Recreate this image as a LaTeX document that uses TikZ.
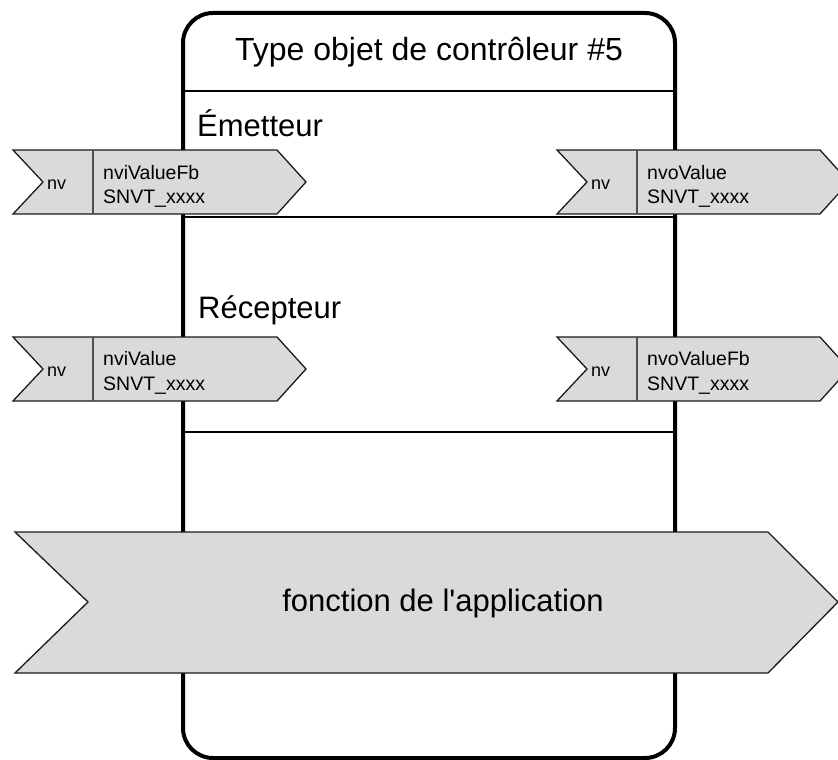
\documentclass[tikz,border=0pt]{standalone}
\usepackage{fontspec}
\setmainfont{Liberation Sans}
\newfontfamily\plainsans{Liberation Sans}
\definecolor{arrowfill}{HTML}{D9DADC}
\definecolor{arrowline}{HTML}{1A1A1A}
\definecolor{divline}{HTML}{505050}
\begin{document}
\begin{tikzpicture}[x=1pt,y=-1pt,
  frame/.style={line width=4pt,rounded corners=30pt},
  sepline/.style={line width=2pt},
  flagshape/.style={fill=arrowfill,draw=arrowline,line width=1.3pt,line join=miter},
  divider/.style={draw=divline,line width=1.3pt},
  bigtext/.style={font=\fontsize{31}{36}\selectfont,inner sep=0pt},
  titletext/.style={font=\fontsize{32}{37}\selectfont,inner sep=0pt},
  nvtext/.style={font=\fontsize{18}{21}\selectfont,inner sep=0pt,anchor=base west},
  nametext/.style={font=\fontsize{19.5}{23}\selectfont,inner sep=0pt,anchor=base west}]
\useasboundingbox (0,0) rectangle (838,760);
% main frame
\draw[frame,fill=white] (183,13) rectangle (675,758);
\draw[sepline] (183,91) -- (675,91);
\draw[sepline] (183,217) -- (675,217);
\draw[sepline] (183,432) -- (675,432);
\node[titletext,anchor=base] (title) at (429,61) {Type objet de contrôleur \#5};
\node[bigtext,anchor=base west] (emet) at (197,136) {Émetteur};
\node[bigtext,anchor=base west] (recep) at (198,318) {Récepteur};
% row 1 left
\draw[flagshape] (13,150) -- (277,150) -- (306,182) -- (277,214) -- (13,214) -- (43,182) -- cycle;
\draw[divider] (93,150) -- (93,214);
\node[nvtext] (nv1) at (47,189) {nv};
\node[nametext] (n1a) at (103,179) {nviValueFb};
\node[nametext] (n1b) at (103,203) {SNVT\_xxxx};
% row 1 right
\draw[flagshape] (557,150) -- (820,150) -- (849,182) -- (820,214) -- (557,214) -- (587,182) -- cycle;
\draw[divider] (637,150) -- (637,214);
\node[nvtext] (nv2) at (591,189) {nv};
\node[nametext] (n2a) at (647,179) {nvoValue};
\node[nametext] (n2b) at (647,203) {SNVT\_xxxx};
% row 2 left
\draw[flagshape] (13,337) -- (277,337) -- (306,369) -- (277,401) -- (13,401) -- (43,369) -- cycle;
\draw[divider] (93,337) -- (93,401);
\node[nvtext] (nv3) at (47,376) {nv};
\node[nametext] (n3a) at (103,365) {nviValue};
\node[nametext] (n3b) at (103,390) {SNVT\_xxxx};
% row 2 right
\draw[flagshape] (557,337) -- (820,337) -- (849,369) -- (820,401) -- (557,401) -- (587,369) -- cycle;
\draw[divider] (637,337) -- (637,401);
\node[nvtext] (nv4) at (591,376) {nv};
\node[nametext] (n4a) at (647,365) {nvoValueFb};
\node[nametext] (n4b) at (647,390) {SNVT\_xxxx};
% big arrow
\draw[flagshape] (15,532) -- (768,532) -- (838,602) -- (768,673) -- (15,673) -- (88,602) -- cycle;
\node[bigtext,anchor=base] (func) at (443,611) {fonction de l{\plainsans'}application};
\end{tikzpicture}
\end{document}
